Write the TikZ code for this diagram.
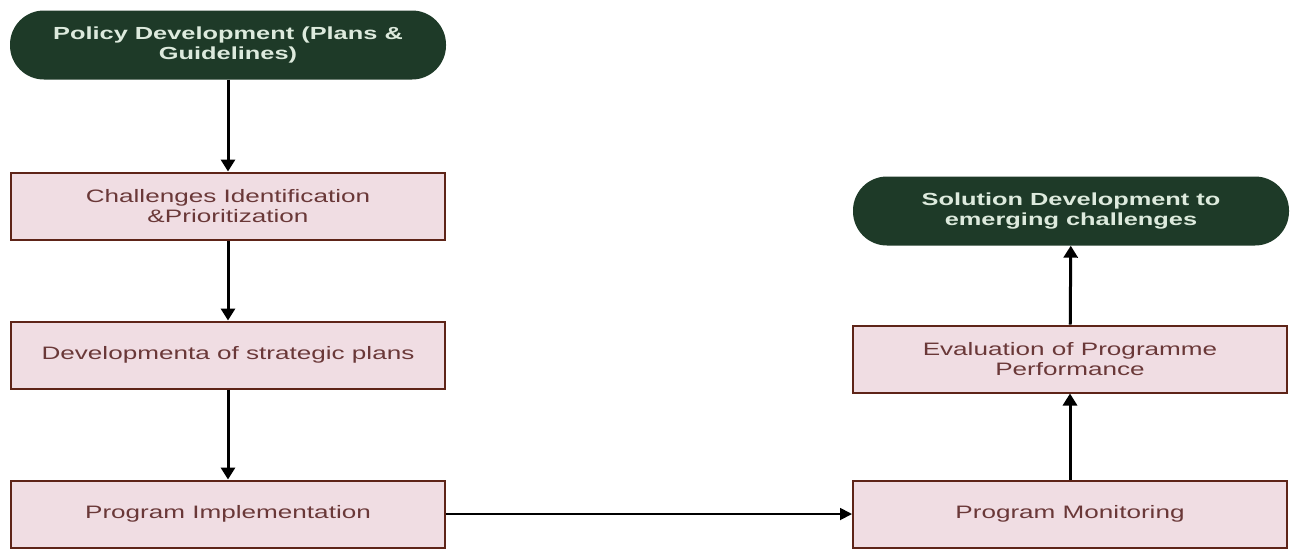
\documentclass[tikz,border=0pt]{standalone}
\usepackage{fontspec}
\usetikzlibrary{arrows.meta,positioning}
\newfontfamily\flowfont[FakeStretch=1.45]{Liberation Sans}
\definecolor{boxfill}{HTML}{F0DDE3}
\definecolor{boxline}{HTML}{5E2418}
\definecolor{boxtext}{HTML}{6A3838}
\definecolor{pillfill}{HTML}{1E3A28}
\definecolor{pilltext}{HTML}{DDEADD}
\tikzset{
  stepbox/.style={draw=boxline, line width=2pt, fill=boxfill, text=boxtext,
    minimum width=434pt, minimum height=67pt, align=center, inner sep=2pt,
    font=\flowfont\fontsize{18}{19.5}\selectfont},
  pill/.style={fill=pillfill, text=pilltext, rounded corners=34pt,
    minimum width=436pt, minimum height=69pt, align=center, inner sep=2pt,
    font=\flowfont\bfseries\fontsize{17.5}{19.5}\selectfont},
  flow/.style={line width=3pt, -{Triangle[width=14pt,length=12pt]}},
  flowthin/.style={line width=1.8pt, -{Triangle[width=12pt,length=12pt]}}
}
\begin{document}
\begin{tikzpicture}[x=1pt,y=-1pt]
  \useasboundingbox (0,0) rectangle (1291,550);
  % left column
  \node[pill]    (policy) at (228,45)  {Policy Development (Plans \&\\Guidelines)};
  \node[stepbox] (chal)   at (228,206) {Challenges Identification\\\&Prioritization};
  \node[stepbox] (dev)    at (228,355) {Developmenta of strategic plans};
  \node[stepbox] (impl)   at (228,514) {Program Implementation};
  % right column
  \node[stepbox] (mon)    at (1070,514) {Program Monitoring};
  \node[stepbox] (eval)   at (1070,359) {Evaluation of Programme\\Performance};
  \node[pill]    (sol)    at (1071,211) {Solution Development to\\emerging challenges};
  % connectors
  \draw[flow] (policy) -- (chal);
  \draw[flow] (chal) -- (dev);
  \draw[flow] (dev) -- (impl);
  \draw[flowthin] (impl) -- (mon);
  \draw[flow] (mon) -- (eval);
  \draw[flow] (eval) -- (sol);
\end{tikzpicture}
\end{document}
